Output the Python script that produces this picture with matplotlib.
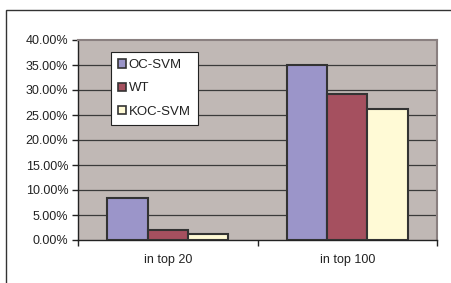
import matplotlib.pyplot as plt
import numpy as np
from matplotlib.patches import Rectangle, Patch
from matplotlib.ticker import FixedLocator

categories = ["in top 20", "in top 100"]
series = ["OC-SVM", "WT", "KOC-SVM"]
oc_svm = [8.5, 35.1]
wt = [2.1, 29.3]
koc_svm = [1.3, 26.3]
yticks = [0, 5, 10, 15, 20, 25, 30, 35, 40]

blue_ = '#9b95c9'
red_ = '#a5505f'
yellow_ = '#fffad6'
bg_ = '#c0b8b5'
edge_ = '#333333'
font_size = 9
bar_width = 0.225

plt.rcParams['font.family'] = ['Liberation Sans', 'DejaVu Sans']
plt.rcParams['text.color'] = '#222222'

fig = plt.figure(figsize=(4.51, 2.83), dpi=100)
fig.patch.set_facecolor('white')
ax = fig.add_axes([78 / 451, 1 - 240 / 283, 359 / 451, 200 / 283])
ax.set_facecolor(bg_)

x = np.arange(len(categories))
values = [oc_svm, wt, koc_svm]
colors = [blue_, red_, yellow_]
for i, (vals, col) in enumerate(zip(values, colors)):
    ax.bar(x + (i - 1) * bar_width, vals, bar_width, color=col,
           edgecolor=edge_, linewidth=1.5, zorder=3)

ax.set_xlim(-0.5, 1.5)
ax.set_ylim(0, 40)
ax.set_yticks(yticks)
ax.set_yticklabels(['%.2f%%' % v for v in yticks], fontsize=font_size, color='#222222')
for v in yticks[1:-1]:
    ax.axhline(v, color='#3a3a3a', linewidth=0.9, zorder=1)

ax.xaxis.set_major_locator(FixedLocator([-0.5, 0.5, 1.5]))
ax.set_xticklabels(['', '', ''])
ax.xaxis.set_minor_locator(FixedLocator(x))
ax.set_xticklabels(categories, minor=True, fontsize=font_size, color='#222222')
ax.tick_params(axis='x', which='minor', length=0, pad=10)
ax.tick_params(axis='x', which='major', length=4, width=1, color='#222222')
ax.tick_params(axis='y', length=4, width=1, color='#222222', pad=3)

for s in ['left', 'bottom']:
    ax.spines[s].set_color('#222222')
    ax.spines[s].set_linewidth(1)
for s in ['top', 'right']:
    ax.spines[s].set_color('#8a8080')
    ax.spines[s].set_linewidth(1.5)

handles = [Patch(facecolor=c, edgecolor=edge_, linewidth=1.2) for c in colors]
leg = ax.legend(handles, series, loc='upper left', bbox_to_anchor=(0.092, 0.94),
                borderaxespad=0, fancybox=False, framealpha=1, edgecolor='#222222',
                fontsize=9.5, handlelength=0.6, handleheight=0.6,
                handletextpad=0.2, labelspacing=0.85, borderpad=0.55)
leg.get_frame().set_linewidth(0.8)
leg.set_zorder(5)

fig.add_artist(Rectangle((6 / 451, -0.1), 1.2, 1 - 10 / 283 + 0.1,
                         transform=fig.transFigure, fill=False,
                         edgecolor='#333333', linewidth=1))

fig.savefig('out.png', dpi=100)
